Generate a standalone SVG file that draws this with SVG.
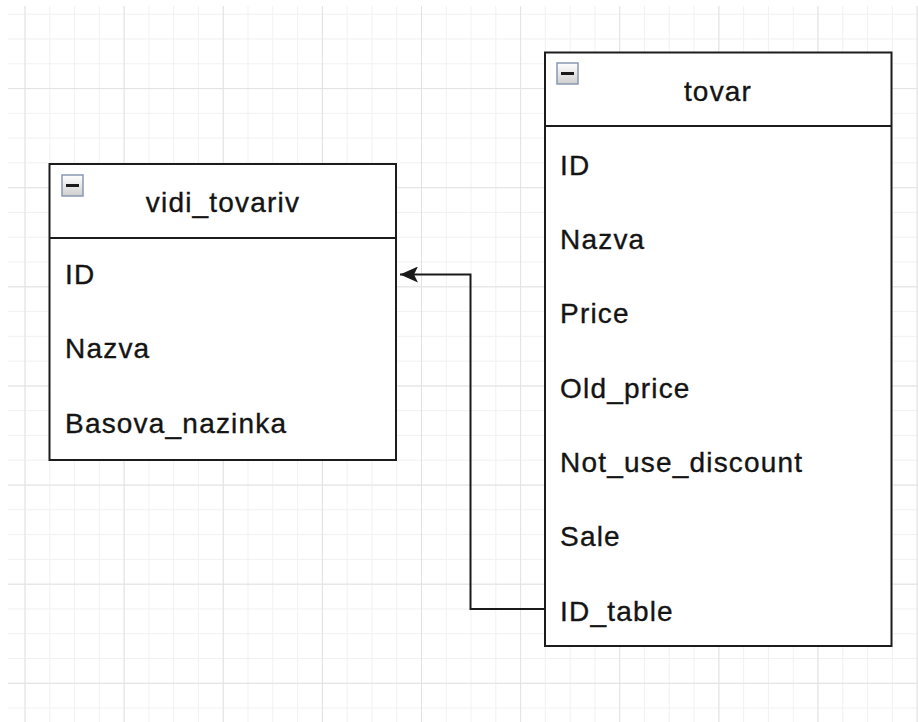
<svg xmlns="http://www.w3.org/2000/svg" width="918" height="722" viewBox="0 0 918 722">
<style>
.box{fill:#ffffff;stroke:#1c1c1c;stroke-width:2}
.sep{stroke:#1c1c1c;stroke-width:2}
.t{font-family:"Liberation Sans",Arial,sans-serif;font-size:28px;fill:#141414;stroke:#141414;stroke-width:0.35;letter-spacing:1.2px}
.h{text-anchor:middle}
.icon{fill:url(#iconGrad);stroke:#8a98b2;stroke-width:1.5}
.minus{stroke:#1a1a1a;stroke-width:3}
.edge{fill:none;stroke:#1a1a1a;stroke-width:2}
</style>
<defs>
<pattern id="gMinor" patternUnits="userSpaceOnUse" x="24.5" y="13.7" width="24.78" height="24.78">
<path d="M0 0.5H24.78M0.5 0V24.78" stroke="#f1f1f1" stroke-width="1" fill="none"/>
</pattern>
<pattern id="gMajor" patternUnits="userSpaceOnUse" x="24.5" y="88.1" width="99.12" height="99.12">
<path d="M0 0.5H99.12M0.5 0V99.12" stroke="#e2e2e2" stroke-width="1" fill="none"/>
</pattern>
<linearGradient id="iconGrad" x1="0" y1="0" x2="0" y2="1">
<stop offset="0" stop-color="#ffffff"/>
<stop offset="1" stop-color="#cfcfcf"/>
</linearGradient>
<marker id="arrow" viewBox="0 0 18 16" refX="18" refY="8" markerWidth="18" markerHeight="16" markerUnits="userSpaceOnUse" orient="auto">
<path d="M0,0 L18,8 L0,16 L4,8 Z" fill="#1a1a1a"/>
</marker>
</defs>
<rect x="0" y="0" width="918" height="722" fill="#ffffff"/>
<rect x="8" y="6" width="910" height="716" fill="url(#gMinor)"/>
<rect x="8" y="6" width="910" height="716" fill="url(#gMajor)"/>

<g id="connectors">
<path class="edge" d="M545 609H470.5V274.5H400" marker-end="url(#arrow)"/>
</g>

<g id="vidi_tovariv">
<rect class="box" x="49.5" y="164" width="346.5" height="296"/>
<line class="sep" x1="49.5" y1="238" x2="396" y2="238"/>
<rect class="icon" x="62" y="175" width="21" height="21"/>
<line class="minus" x1="66" y1="185.5" x2="79" y2="185.5"/>
<text class="t h" x="223" y="212">vidi_tovariv</text>
<text class="t" x="65" y="284">ID</text>
<text class="t" x="65" y="358">Nazva</text>
<text class="t" x="65" y="432.5">Basova_nazinka</text>
</g>

<g id="tovar">
<rect class="box" x="545" y="52.5" width="346.5" height="593.5"/>
<line class="sep" x1="545" y1="126" x2="891.5" y2="126"/>
<rect class="icon" x="557" y="63" width="21" height="21"/>
<line class="minus" x1="561" y1="73.5" x2="574" y2="73.5"/>
<text class="t h" x="718" y="100.5">tovar</text>
<text class="t" x="560" y="174.8">ID</text>
<text class="t" x="560" y="249.1">Nazva</text>
<text class="t" x="560" y="323.4">Price</text>
<text class="t" x="560" y="397.7">Old_price</text>
<text class="t" x="560" y="471.5">Not_use_discount</text>
<text class="t" x="560" y="546.3">Sale</text>
<text class="t" x="560" y="620.6">ID_table</text>
</g>
</svg>
